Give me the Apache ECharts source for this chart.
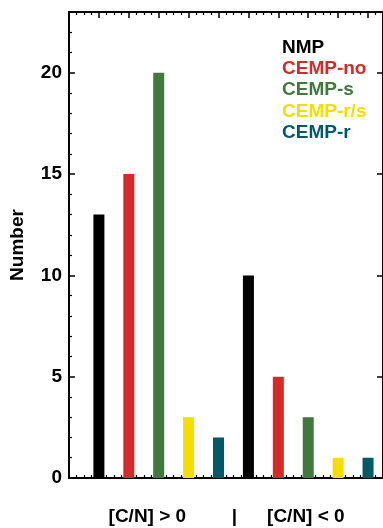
<!DOCTYPE html>
<html>
<head>
<meta charset="utf-8">
<script src="https://cdn.jsdelivr.net/npm/echarts@6/dist/echarts.min.js"></script>
<style>
html,body{margin:0;padding:0;background:#fff;}
#chart{width:383px;height:528px;}
</style>
</head>
<body>
<div id="chart"></div>
<script>
// Data
var groupLabels = ['[C/N] > 0', '[C/N] < 0'];
var seriesNames = ['NMP', 'CEMP-no', 'CEMP-s', 'CEMP-r/s', 'CEMP-r'];
var seriesColors = ['#000000', '#d42a2a', '#3f7a3c', '#f7dc00', '#005a66'];
var nmp    = [13, 10];
var cempNo = [15, 5];
var cempS  = [20, 3];
var cempRS = [3, 1];
var cempR  = [2, 1];
var seriesValues = [nmp, cempNo, cempS, cempRS, cempR];
var yTicks = [0, 5, 10, 15, 20];

var FONT = '"Liberation Sans", Arial, Helvetica, sans-serif';
var chart = echarts.init(document.getElementById('chart'), null, {renderer: 'canvas'});

var nSeries = seriesNames.length;
var series = seriesNames.map(function (name, i) {
  return {
    name: name,
    type: 'bar',
    xAxisIndex: 0,
    yAxisIndex: 0,
    barWidth: 11,
    barGap: '-100%',
    itemStyle: {color: seriesColors[i]},
    data: seriesValues[i].map(function (v, g) {
      return [g * nSeries + i + 1, v];
    })
  };
});

function axisLine() { return {show: true, onZero: false, lineStyle: {color: '#000', width: 2}}; }
function xAxisDef(pos) {
  return {
    type: 'value', min: 0, max: 10.5, interval: 1, position: pos,
    axisLine: axisLine(),
    axisLabel: {show: false},
    splitLine: {show: false},
    axisTick: {show: true, inside: true, length: 6, lineStyle: {color: '#000', width: 1.5}},
    minorTick: {show: true, splitNumber: 4, length: 3, lineStyle: {color: '#000', width: 1.2}}
  };
}

var option = {
  animation: false,
  backgroundColor: '#fff',
  grid: {left: 69, top: 12, width: 317, height: 466, containLabel: false},
  legend: {
    show: true,
    orient: 'vertical',
    left: 272,
    top: 33,
    itemWidth: 0,
    itemHeight: 0,
    itemGap: 2.3,
    icon: 'rect',
    selectedMode: false,
    data: seriesNames.map(function (n, i) {
      return {name: n, textStyle: {color: seriesColors[i]}};
    }),
    textStyle: {fontFamily: FONT, fontWeight: 'bold', fontSize: 19, lineHeight: 18.5}
  },
  xAxis: [xAxisDef('bottom'), xAxisDef('top')],
  yAxis: [
    {
      type: 'value', min: 0, max: 23, interval: 5, position: 'left',
      name: 'Number', nameLocation: 'middle', nameGap: 42, nameRotate: 90,
      nameTextStyle: {fontFamily: FONT, fontWeight: 'bold', fontSize: 19, color: '#000'},
      axisLine: axisLine(),
      axisLabel: {
        show: true, margin: 7, color: '#000',
        fontFamily: FONT, fontWeight: 'bold', fontSize: 19,
        formatter: function (v) { return yTicks.indexOf(v) >= 0 ? String(v) : ''; }
      },
      splitLine: {show: false},
      axisTick: {show: true, inside: true, length: 6, lineStyle: {color: '#000', width: 1.5}},
      minorTick: {show: true, splitNumber: 5, length: 3, lineStyle: {color: '#000', width: 1.2}}
    },
    {
      type: 'value', min: 0, max: 23, interval: 5, position: 'right',
      axisLine: axisLine(),
      axisLabel: {show: false},
      splitLine: {show: false},
      axisTick: {show: true, inside: true, length: 6, lineStyle: {color: '#000', width: 1.5}},
      minorTick: {show: false}
    }
  ],
  series: series
};
chart.setOption(option);

// Group labels under each group (axis units), separator between groups
var groupLabelPos = [2.62, 7.92];
var separatorPos = 5.53;
var labelY = 517;
var els = groupLabels.map(function (t, g) {
  return {type: 'text', x: chart.convertToPixel({xAxisIndex: 0}, groupLabelPos[g]), y: labelY,
    style: {text: t, font: 'bold 19px ' + FONT, fill: '#000', textAlign: 'center', textVerticalAlign: 'middle'}};
});
els.push({type: 'text', x: chart.convertToPixel({xAxisIndex: 0}, separatorPos), y: labelY,
  style: {text: '|', font: 'bold 19px ' + FONT, fill: '#000', textAlign: 'center', textVerticalAlign: 'middle'}});
chart.setOption({graphic: els});
</script>
</body>
</html>
